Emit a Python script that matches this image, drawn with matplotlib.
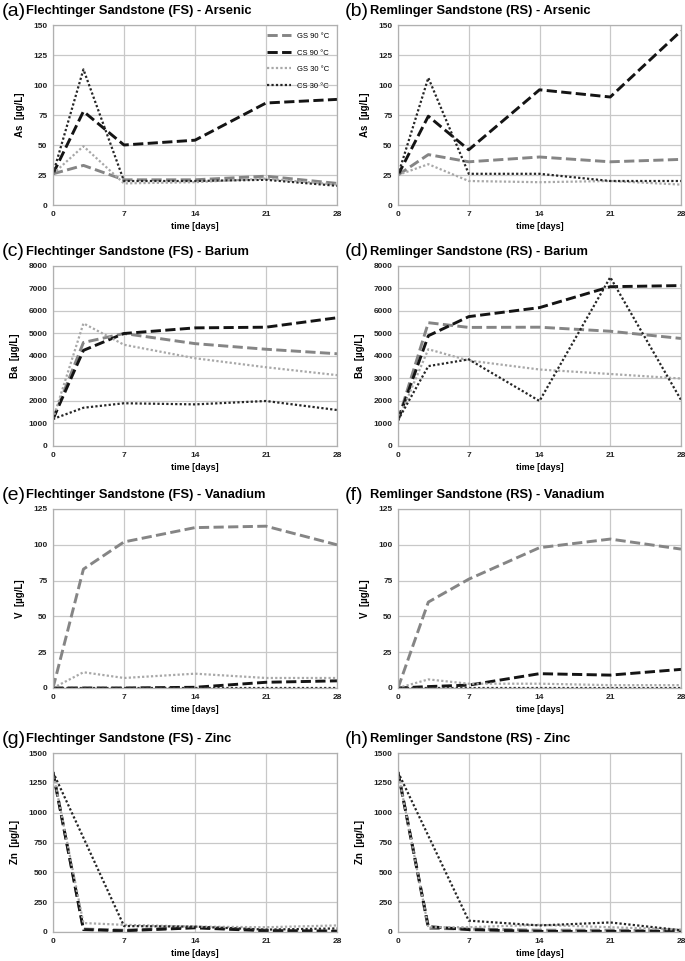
import matplotlib
matplotlib.use("Agg")
import matplotlib.pyplot as plt

days = [0, 3, 7, 14, 21, 28]
series_names = ['GS 90 °C', 'CS 90 °C', 'GS 30 °C', 'CS 30 °C']

# (a) FS arsenic
fs_as_gs90 = [26, 33, 21, 21, 24, 18]
fs_as_cs90 = [26, 78, 50, 54, 85, 88]
fs_as_gs30 = [26, 49, 18, 19, 22, 17]
fs_as_cs30 = [26, 113, 20, 20, 21, 16]
# (b) RS arsenic
rs_as_gs90 = [25, 42, 36, 40, 36, 38]
rs_as_cs90 = [25, 74, 46, 96, 90, 145]
rs_as_gs30 = [25, 34, 20, 19, 20, 17]
rs_as_cs30 = [25, 106, 26, 26, 20, 20]
# (c) FS barium
fs_ba_gs90 = [1200, 4600, 5000, 4550, 4300, 4100]
fs_ba_cs90 = [1200, 4250, 5000, 5250, 5280, 5700]
fs_ba_gs30 = [1200, 5450, 4500, 3900, 3500, 3150]
fs_ba_cs30 = [1200, 1700, 1900, 1850, 2000, 1600]
# (d) RS barium
rs_ba_gs90 = [1150, 5480, 5270, 5280, 5100, 4780]
rs_ba_cs90 = [1150, 4900, 5750, 6150, 7080, 7130]
rs_ba_gs30 = [1150, 4300, 3800, 3400, 3200, 3000]
rs_ba_cs30 = [1150, 3550, 3850, 2000, 7500, 2050]
# (e) FS vanadium
fs_v_gs90 = [0, 83, 102, 112, 113, 100]
fs_v_cs90 = [0, 0, 0, 0.5, 4, 5]
fs_v_gs30 = [0, 11, 7, 10, 7, 7]
fs_v_cs30 = [0, 0, 0, 0, 0, 0]
# (f) RS vanadium
rs_v_gs90 = [0, 60, 76, 98, 104, 97]
rs_v_cs90 = [0, 1, 2, 10, 9, 13]
rs_v_gs30 = [0, 6, 3, 3, 2, 2]
rs_v_cs30 = [0, 0, 0, 0, 0, 0]
# (g) FS zinc
fs_zn_gs90 = [1340, 25, 15, 40, 15, 10]
fs_zn_cs90 = [1340, 20, 10, 35, 10, 5]
fs_zn_gs30 = [1340, 75, 60, 45, 40, 55]
fs_zn_cs30 = [1340, 790, 50, 45, 20, 30]
# (h) RS zinc
rs_zn_gs90 = [1340, 30, 25, 15, 15, 10]
rs_zn_cs90 = [1340, 45, 20, 5, 5, 5]
rs_zn_gs30 = [1340, 40, 40, 60, 40, 20]
rs_zn_cs30 = [1340, 806, 95, 55, 80, 15]

panels = [
    ('(a)', 'Flechtinger Sandstone (FS) - Arsenic', 'As  [µg/L]', 150, 25,
     [fs_as_gs90, fs_as_cs90, fs_as_gs30, fs_as_cs30]),
    ('(b)', 'Remlinger Sandstone (RS) - Arsenic', 'As  [µg/L]', 150, 25,
     [rs_as_gs90, rs_as_cs90, rs_as_gs30, rs_as_cs30]),
    ('(c)', 'Flechtinger Sandstone (FS) - Barium', 'Ba  [µg/L]', 8000, 1000,
     [fs_ba_gs90, fs_ba_cs90, fs_ba_gs30, fs_ba_cs30]),
    ('(d)', 'Remlinger Sandstone (RS) - Barium', 'Ba  [µg/L]', 8000, 1000,
     [rs_ba_gs90, rs_ba_cs90, rs_ba_gs30, rs_ba_cs30]),
    ('(e)', 'Flechtinger Sandstone (FS) - Vanadium', 'V  [µg/L]', 125, 25,
     [fs_v_gs90, fs_v_cs90, fs_v_gs30, fs_v_cs30]),
    ('(f)', 'Remlinger Sandstone (RS) - Vanadium', 'V  [µg/L]', 125, 25,
     [rs_v_gs90, rs_v_cs90, rs_v_gs30, rs_v_cs30]),
    ('(g)', 'Flechtinger Sandstone (FS) - Zinc', 'Zn  [µg/L]', 1500, 250,
     [fs_zn_gs90, fs_zn_cs90, fs_zn_gs30, fs_zn_cs30]),
    ('(h)', 'Remlinger Sandstone (RS) - Zinc', 'Zn  [µg/L]', 1500, 250,
     [rs_zn_gs90, rs_zn_cs90, rs_zn_gs30, rs_zn_cs30]),
]

line_styles = [
    dict(color='#858585', lw=2.1, ls=(0, (3.5, 1.5))),
    dict(color='#141414', lw=2.1, ls=(0, (3.5, 1.5))),
    dict(color='#a8a8a8', lw=1.6, ls=(0, (1, 1))),
    dict(color='#262626', lw=1.6, ls=(0, (1, 1))),
]

plt.rcParams['font.family'] = ['Liberation Sans', 'DejaVu Sans']

W, H = 685, 961
fig = plt.figure(figsize=(W / 100, H / 100), dpi=100)

rows = [(25, 205), (266, 446), (509, 688), (753, 932)]
cols = [(53, 337), (398, 681)]

for i, (tag, title, ylab, ymax, ystep, vals) in enumerate(panels):
    top, bot = rows[i // 2]
    left, right = cols[i % 2]
    ax = fig.add_axes([left / W, 1 - bot / H, (right - left) / W, (bot - top) / H])
    for v, nm, st in zip(vals, series_names, line_styles):
        ax.plot(days, v, label=nm, **st)
    ax.set_xlim(0, 28)
    ax.set_ylim(0, ymax)
    ax.set_xticks([0, 7, 14, 21, 28])
    ax.set_yticks(range(0, ymax + 1, ystep))
    ax.grid(True, color='#c8c8c8', lw=0.9)
    ax.set_axisbelow(True)
    for sp in ax.spines.values():
        sp.set_color('#b0b0b0')
        sp.set_linewidth(0.9)
    ax.tick_params(length=0, labelsize=6, pad=4, labelcolor='#222222')
    for lb in ax.get_xticklabels() + ax.get_yticklabels():
        lb.set_fontweight('bold')
    ax.set_xlabel('time [days]', fontsize=6.5, fontweight='bold', labelpad=3)
    ax.set_ylabel(ylab, fontsize=7, fontweight='bold', labelpad=6)
    lx = 2 if i % 2 == 0 else 345
    tx = 26 if i % 2 == 0 else 370
    ty = top - 14
    fig.text(lx / W, 1 - ty / H, tag, fontsize=14, va='center', ha='left')
    fig.text(tx / W, 1 - ty / H, title, fontsize=9.3, fontweight='bold',
             va='center', ha='left')
    if i == 0:
        ax.legend(loc='upper right', fontsize=5.5, frameon=False,
                  handlelength=3.2, labelspacing=1.2, borderaxespad=0.6)

fig.savefig('out.png', dpi=100)
